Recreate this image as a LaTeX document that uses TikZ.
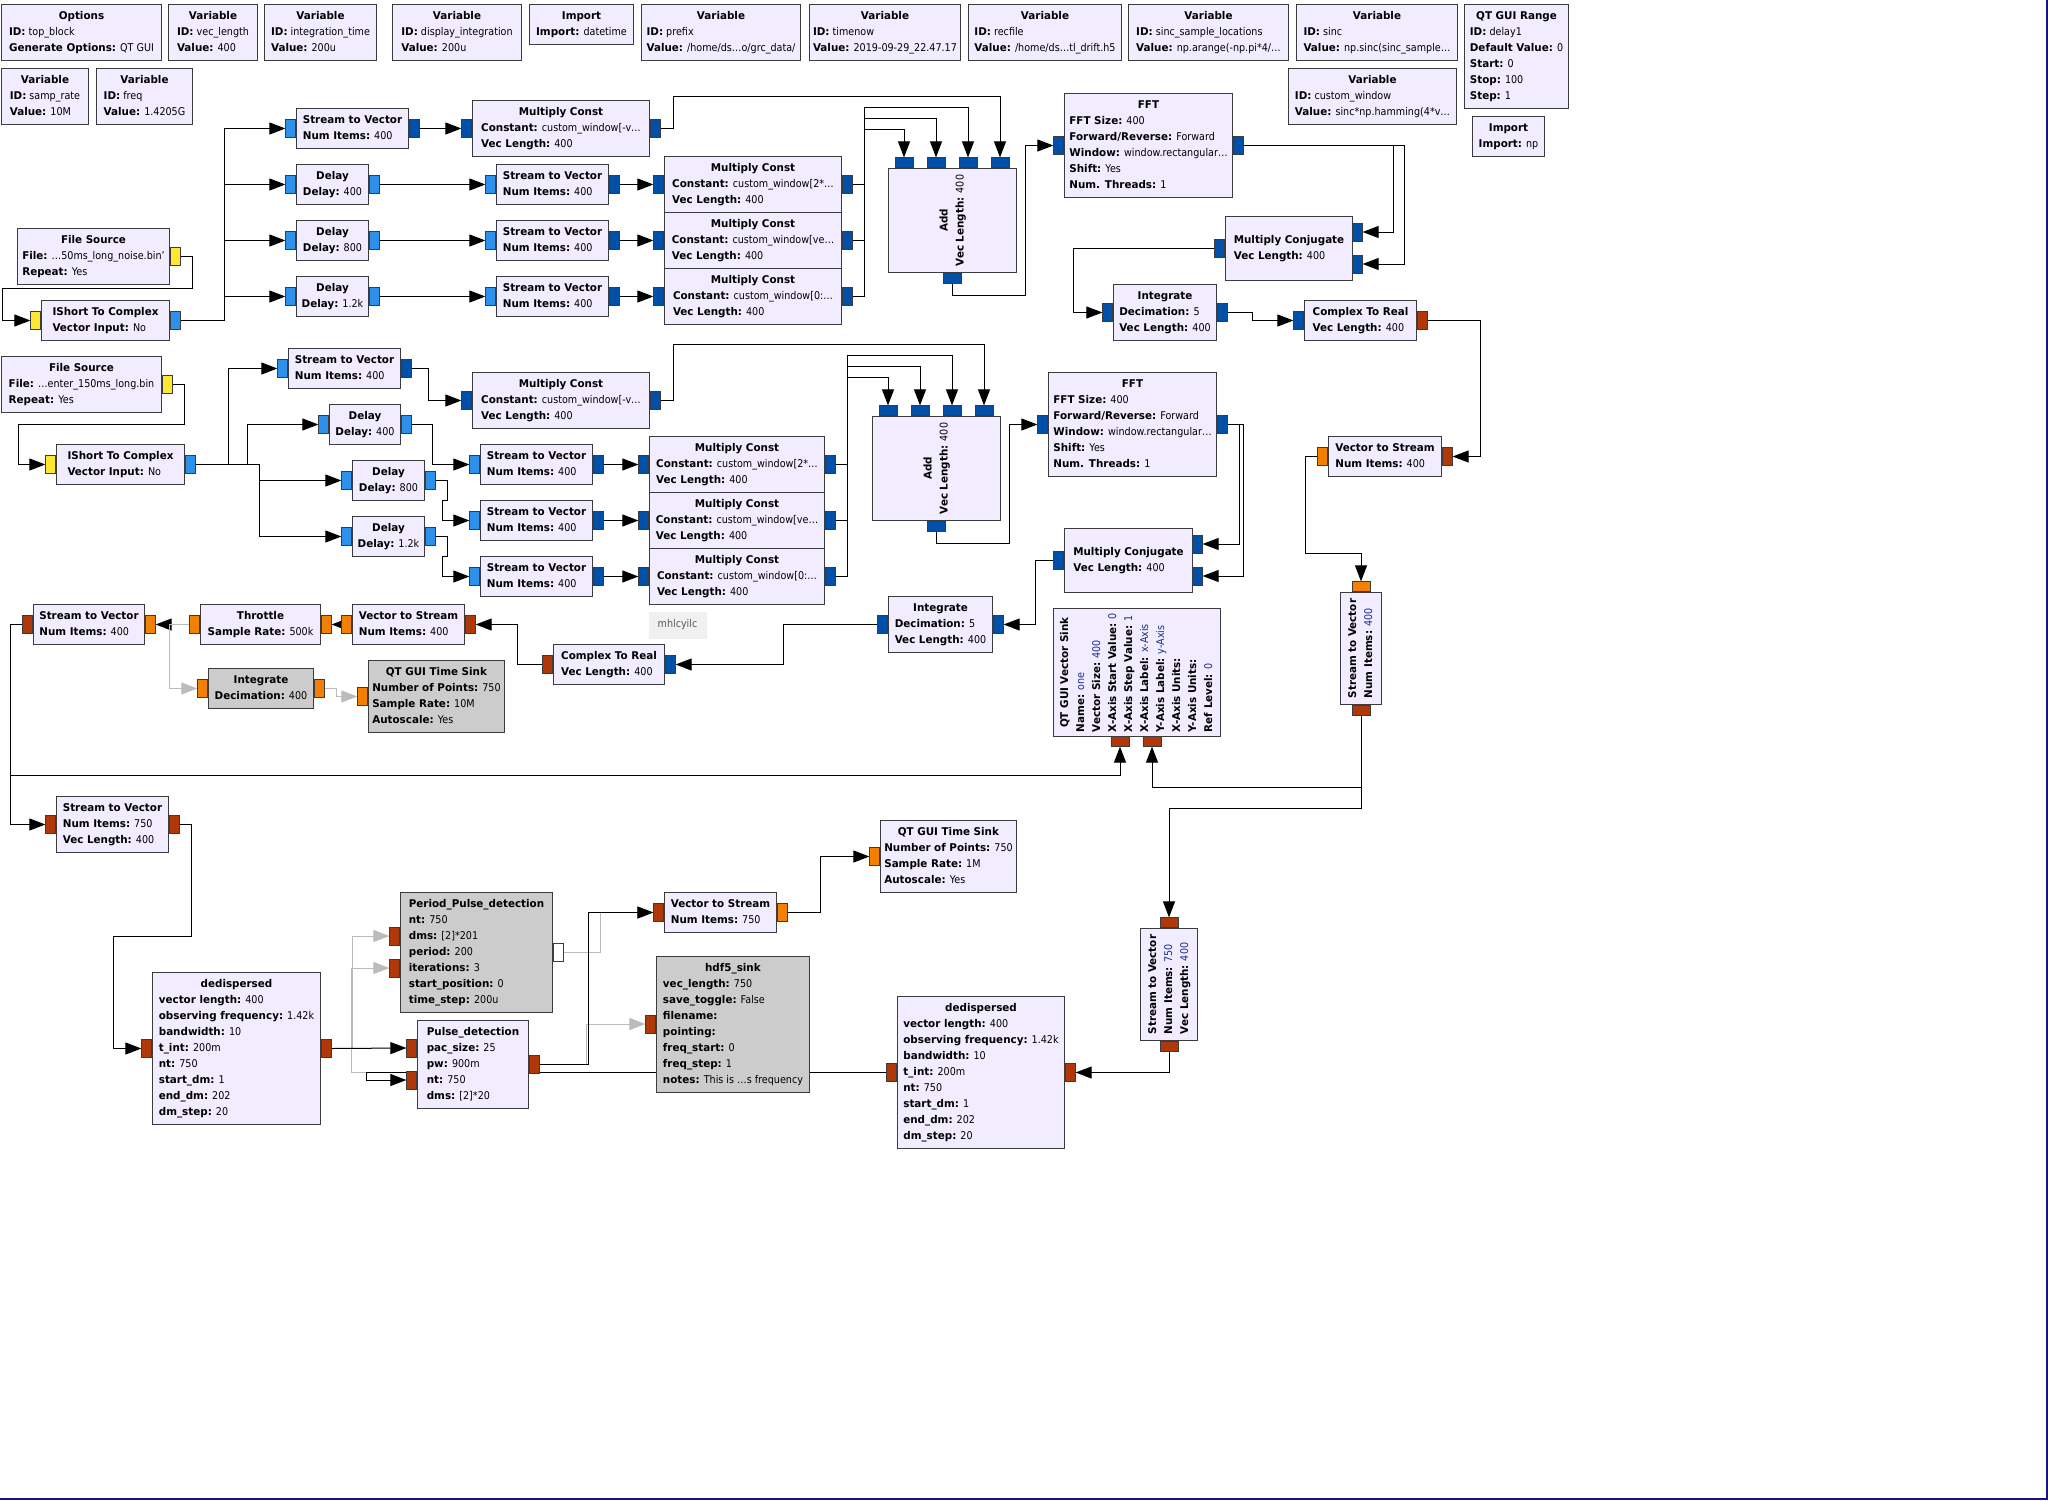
\documentclass[tikz,border=0pt]{standalone}
\usepackage{fontspec}
\setmainfont{DejaVu Sans}[FakeStretch=0.9, BoldFeatures={FakeStretch=0.97}]
\usetikzlibrary{arrows.meta,calc,backgrounds}

\newcommand{\grcf}{\fontsize{10.67}{16}\selectfont}
\newcommand{\gtab}[1]{\begin{tabular}{@{}l@{}}#1\end{tabular}}
\definecolor{blkfill}{RGB}{241,236,255}
\definecolor{offfill}{RGB}{204,204,204}
\definecolor{bdr}{RGB}{60,60,60}
\definecolor{pcs}{RGB}{45,145,235}
\definecolor{pcv}{RGB}{0,80,170}
\definecolor{pfs}{RGB}{243,128,0}
\definecolor{pfv}{RGB}{176,56,8}
\definecolor{psh}{RGB}{255,230,50}
\definecolor{gcon}{RGB}{187,187,187}
\definecolor{rval}{RGB}{25,45,140}
\definecolor{notefill}{RGB}{240,240,240}
\definecolor{notetxt}{RGB}{90,90,90}
\definecolor{frameblue}{RGB}{20,20,140}

\tikzset{every picture/.style={line width=1pt}}
\tikzset{
	blk/.style={draw={bdr}, fill={blkfill}, line width=1pt, anchor=north west, inner sep=0pt},
	offblk/.style={blk, fill={offfill}},
	txt/.style={inner sep=0pt, font=\grcf},
	port/.style={draw={bdr}, line width=0.6pt, inner sep=0pt, minimum width=10, minimum height=18},
	vport/.style={port, minimum width=18, minimum height=10},
	wire/.style={-{Triangle[length=16pt,width=12pt]}, line width=1pt, draw=black},
	offwire/.style={wire, draw={gcon}}}

\begin{document}
\begin{tikzpicture}[x=1pt,y=1pt,yscale=-1,xscale=1]
	\useasboundingbox (0,0) rectangle (2048,1500);

	%Shape: Variables, top rows
	\node[blk, minimum width=160, minimum height=56] (opt) at (1,4) {};
	\node[txt] (opt-t) at (opt.center) {\gtab{\hfil\textbf{Options}\\ \textbf{ID:} top\_block\\ \textbf{Generate Options:} QT GUI}};
	\node[blk, minimum width=89, minimum height=56] (vlen) at (168,4) {};
	\node[txt] (vlen-t) at (vlen.center) {\gtab{\hfil\textbf{Variable}\\ \textbf{ID:} vec\_length\\ \textbf{Value:} 400}};
	\node[blk, minimum width=112, minimum height=56] (vint) at (264,4) {};
	\node[txt] (vint-t) at (vint.center) {\gtab{\hfil\textbf{Variable}\\ \textbf{ID:} integration\_time\\ \textbf{Value:} 200u}};
	\node[blk, minimum width=129, minimum height=56] (vdisp) at (392,4) {};
	\node[txt] (vdisp-t) at (vdisp.center) {\gtab{\hfil\textbf{Variable}\\ \textbf{ID:} display\_integration\\ \textbf{Value:} 200u}};
	\node[blk, minimum width=104, minimum height=40] (imp1) at (529,4) {};
	\node[txt] (imp1-t) at (imp1.center) {\gtab{\hfil\textbf{Import}\\ \textbf{Import:} datetime}};
	\node[blk, minimum width=159, minimum height=56] (vpre) at (641,4) {};
	\node[txt] (vpre-t) at (vpre.center) {\gtab{\hfil\textbf{Variable}\\ \textbf{ID:} prefix\\ \textbf{Value:} /home/ds…o/grc\_data/}};
	\node[blk, minimum width=151, minimum height=56] (vnow) at (809,4) {};
	\node[txt] (vnow-t) at (vnow.center) {\gtab{\hfil\textbf{Variable}\\ \textbf{ID:} timenow\\ \textbf{Value:} 2019-09-29\_22.47.17}};
	\node[blk, minimum width=153, minimum height=56] (vrec) at (968,4) {};
	\node[txt] (vrec-t) at (vrec.center) {\gtab{\hfil\textbf{Variable}\\ \textbf{ID:} recfile\\ \textbf{Value:} /home/ds…tl\_drift.h5}};
	\node[blk, minimum width=160, minimum height=56] (vsl) at (1128,4) {};
	\node[txt] (vsl-t) at (vsl.center) {\gtab{\hfil\textbf{Variable}\\ \textbf{ID:} sinc\_sample\_locations\\ \textbf{Value:} np.arange(-np.pi*4/…}};
	\node[blk, minimum width=161, minimum height=56] (vsinc) at (1296,4) {};
	\node[txt] (vsinc-t) at (vsinc.center) {\gtab{\hfil\textbf{Variable}\\ \textbf{ID:} sinc\\ \textbf{Value:} np.sinc(sinc\_sample…}};
	\node[blk, minimum width=104, minimum height=104] (rng) at (1464,4) {};
	\node[txt] (rng-t) at (rng.center) {\gtab{\hfil\textbf{QT GUI Range}\\ \textbf{ID:} delay1\\ \textbf{Default Value:} 0\\ \textbf{Start:} 0\\ \textbf{Stop:} 100\\ \textbf{Step:} 1}};
	\node[blk, minimum width=87, minimum height=56] (vsr) at (1,68) {};
	\node[txt] (vsr-t) at (vsr.center) {\gtab{\hfil\textbf{Variable}\\ \textbf{ID:} samp\_rate\\ \textbf{Value:} 10M}};
	\node[blk, minimum width=96, minimum height=56] (vfreq) at (96,68) {};
	\node[txt] (vfreq-t) at (vfreq.center) {\gtab{\hfil\textbf{Variable}\\ \textbf{ID:} freq\\ \textbf{Value:} 1.4205G}};
	\node[blk, minimum width=168, minimum height=56] (vwin) at (1288,68) {};
	\node[txt] (vwin-t) at (vwin.center) {\gtab{\hfil\textbf{Variable}\\ \textbf{ID:} custom\_window\\ \textbf{Value:} sinc*np.hamming(4*v…}};
	\node[blk, minimum width=72, minimum height=40] (imp2) at (1472,116) {};
	\node[txt] (imp2-t) at (imp2.center) {\gtab{\hfil\textbf{Import}\\ \textbf{Import:} np}};

	%Shape: First chain
	\node[blk, minimum width=152, minimum height=56] (fs1) at (17,228) {};
	\node[txt] (fs1-t) at (fs1.center) {\gtab{\hfil\textbf{File Source}\\ \textbf{File:} …50ms\_long\_noise.bin'\\ \textbf{Repeat:} Yes}};
	\node[port, fill=psh, anchor=west] (fs1-out) at (fs1.east) {};
	\node[blk, minimum width=128, minimum height=40] (is1) at (41,300) {};
	\node[txt] (is1-t) at (is1.center) {\gtab{\hfil\textbf{IShort To Complex}\\ \textbf{Vector Input:} No}};
	\node[port, fill=psh, anchor=east] (is1-in) at (is1.west) {};
	\node[port, fill=pcs, anchor=west] (is1-out) at (is1.east) {};
	\node[blk, minimum width=112, minimum height=40] (sv1) at (296,108) {};
	\node[txt] (sv1-t) at (sv1.center) {\gtab{\hfil\textbf{Stream to Vector}\\ \textbf{Num Items:} 400}};
	\node[port, fill=pcs, anchor=east] (sv1-in) at (sv1.west) {};
	\node[port, fill=pcv, anchor=west] (sv1-out) at (sv1.east) {};
	\node[blk, minimum width=72, minimum height=40] (d1) at (296,164) {};
	\node[txt] (d1-t) at (d1.center) {\gtab{\hfil\textbf{Delay}\\ \textbf{Delay:} 400}};
	\node[port, fill=pcs, anchor=east] (d1-in) at (d1.west) {};
	\node[port, fill=pcs, anchor=west] (d1-out) at (d1.east) {};
	\node[blk, minimum width=72, minimum height=40] (d2) at (296,220) {};
	\node[txt] (d2-t) at (d2.center) {\gtab{\hfil\textbf{Delay}\\ \textbf{Delay:} 800}};
	\node[port, fill=pcs, anchor=east] (d2-in) at (d2.west) {};
	\node[port, fill=pcs, anchor=west] (d2-out) at (d2.east) {};
	\node[blk, minimum width=72, minimum height=40] (d3) at (296,276) {};
	\node[txt] (d3-t) at (d3.center) {\gtab{\hfil\textbf{Delay}\\ \textbf{Delay:} 1.2k}};
	\node[port, fill=pcs, anchor=east] (d3-in) at (d3.west) {};
	\node[port, fill=pcs, anchor=west] (d3-out) at (d3.east) {};
	\node[blk, minimum width=112, minimum height=40] (sv2) at (496,164) {};
	\node[txt] (sv2-t) at (sv2.center) {\gtab{\hfil\textbf{Stream to Vector}\\ \textbf{Num Items:} 400}};
	\node[port, fill=pcs, anchor=east] (sv2-in) at (sv2.west) {};
	\node[port, fill=pcv, anchor=west] (sv2-out) at (sv2.east) {};
	\node[blk, minimum width=112, minimum height=40] (sv3) at (496,220) {};
	\node[txt] (sv3-t) at (sv3.center) {\gtab{\hfil\textbf{Stream to Vector}\\ \textbf{Num Items:} 400}};
	\node[port, fill=pcs, anchor=east] (sv3-in) at (sv3.west) {};
	\node[port, fill=pcv, anchor=west] (sv3-out) at (sv3.east) {};
	\node[blk, minimum width=112, minimum height=40] (sv4) at (496,276) {};
	\node[txt] (sv4-t) at (sv4.center) {\gtab{\hfil\textbf{Stream to Vector}\\ \textbf{Num Items:} 400}};
	\node[port, fill=pcs, anchor=east] (sv4-in) at (sv4.west) {};
	\node[port, fill=pcv, anchor=west] (sv4-out) at (sv4.east) {};
	\node[blk, minimum width=177, minimum height=56] (mc1) at (472,100) {};
	\node[txt] (mc1-t) at (mc1.center) {\gtab{\hfil\textbf{Multiply Const}\\ \textbf{Constant:} custom\_window[-v…\\ \textbf{Vec Length:} 400}};
	\node[port, fill=pcv, anchor=east] (mc1-in) at (mc1.west) {};
	\node[port, fill=pcv, anchor=west] (mc1-out) at (mc1.east) {};
	\node[blk, minimum width=177, minimum height=56] (mc2) at (664,156) {};
	\node[txt] (mc2-t) at (mc2.center) {\gtab{\hfil\textbf{Multiply Const}\\ \textbf{Constant:} custom\_window[2*…\\ \textbf{Vec Length:} 400}};
	\node[port, fill=pcv, anchor=east] (mc2-in) at (mc2.west) {};
	\node[port, fill=pcv, anchor=west] (mc2-out) at (mc2.east) {};
	\node[blk, minimum width=177, minimum height=56] (mc3) at (664,212) {};
	\node[txt] (mc3-t) at (mc3.center) {\gtab{\hfil\textbf{Multiply Const}\\ \textbf{Constant:} custom\_window[ve…\\ \textbf{Vec Length:} 400}};
	\node[port, fill=pcv, anchor=east] (mc3-in) at (mc3.west) {};
	\node[port, fill=pcv, anchor=west] (mc3-out) at (mc3.east) {};
	\node[blk, minimum width=177, minimum height=56] (mc4) at (664,268) {};
	\node[txt] (mc4-t) at (mc4.center) {\gtab{\hfil\textbf{Multiply Const}\\ \textbf{Constant:} custom\_window[0:…\\ \textbf{Vec Length:} 400}};
	\node[port, fill=pcv, anchor=east] (mc4-in) at (mc4.west) {};
	\node[port, fill=pcv, anchor=west] (mc4-out) at (mc4.east) {};
	\node[blk, minimum width=128, minimum height=104] (add1) at (888,168) {};
	\node[txt, rotate=90] (add1-t) at (add1.center) {\gtab{\hfil\textbf{Add}\\ \textbf{Vec Length:} 400}};
	\node[vport, fill=pcv, anchor=south] (add1-in1) at (904,168) {};
	\node[vport, fill=pcv, anchor=south] (add1-in2) at (936,168) {};
	\node[vport, fill=pcv, anchor=south] (add1-in3) at (968,168) {};
	\node[vport, fill=pcv, anchor=south] (add1-in4) at (1000,168) {};
	\node[vport, fill=pcv, anchor=north] (add1-out) at (add1.south) {};
	\node[blk, minimum width=168, minimum height=104] (fft1) at (1064,93) {};
	\node[txt] (fft1-t) at (fft1.center) {\gtab{\hfil\textbf{FFT}\\ \textbf{FFT Size:} 400\\ \textbf{Forward/Reverse:} Forward\\ \textbf{Window:} window.rectangular…\\ \textbf{Shift:} Yes\\ \textbf{Num. Threads:} 1}};
	\node[port, fill=pcv, anchor=east] (fft1-in) at (fft1.west) {};
	\node[port, fill=pcv, anchor=west] (fft1-out) at (fft1.east) {};
	\node[blk, minimum width=127, minimum height=64] (mcj1) at (1225,216) {};
	\node[txt] (mcj1-t) at (mcj1.center) {\gtab{\hfil\textbf{Multiply Conjugate}\\ \textbf{Vec Length:} 400}};
	\node[port, fill=pcv, anchor=west] (mcj1-in1) at (1352,232) {};
	\node[port, fill=pcv, anchor=west] (mcj1-in2) at (1352,264) {};
	\node[port, fill=pcv, anchor=east] (mcj1-out) at (mcj1.west) {};
	\node[blk, minimum width=103, minimum height=56] (int1) at (1113,284) {};
	\node[txt] (int1-t) at (int1.center) {\gtab{\hfil\textbf{Integrate}\\ \textbf{Decimation:} 5\\ \textbf{Vec Length:} 400}};
	\node[port, fill=pcv, anchor=east] (int1-in) at (int1.west) {};
	\node[port, fill=pcv, anchor=west] (int1-out) at (int1.east) {};
	\node[blk, minimum width=112, minimum height=40] (c2r1) at (1304,300) {};
	\node[txt] (c2r1-t) at (c2r1.center) {\gtab{\hfil\textbf{Complex To Real}\\ \textbf{Vec Length:} 400}};
	\node[port, fill=pcv, anchor=east] (c2r1-in) at (c2r1.west) {};
	\node[port, fill=pfv, anchor=west] (c2r1-out) at (c2r1.east) {};
	\node[blk, minimum width=113, minimum height=40] (v2s1) at (1328,436) {};
	\node[txt] (v2s1-t) at (v2s1.center) {\gtab{\hfil\textbf{Vector to Stream}\\ \textbf{Num Items:} 400}};
	\node[port, fill=pfv, anchor=west] (v2s1-in) at (v2s1.east) {};
	\node[port, fill=pfs, anchor=east] (v2s1-out) at (v2s1.west) {};
	\node[blk, minimum width=41, minimum height=112] (svr1) at (1340,592) {};
	\node[txt, rotate=90] (svr1-t) at (svr1.center) {\gtab{\hfil\textbf{Stream to Vector}\\ \textbf{Num Items:} {\color{rval}400}}};
	\node[vport, fill=pfs, anchor=south] (svr1-in) at (svr1.north) {};
	\node[vport, fill=pfv, anchor=north] (svr1-out) at (svr1.south) {};

	%Shape: Second chain
	\node[blk, minimum width=160, minimum height=56] (fs2) at (1,356) {};
	\node[txt] (fs2-t) at (fs2.center) {\gtab{\hfil\textbf{File Source}\\ \textbf{File:} …enter\_150ms\_long.bin\\ \textbf{Repeat:} Yes}};
	\node[port, fill=psh, anchor=west] (fs2-out) at (fs2.east) {};
	\node[blk, minimum width=128, minimum height=40] (is2) at (56,444) {};
	\node[txt] (is2-t) at (is2.center) {\gtab{\hfil\textbf{IShort To Complex}\\ \textbf{Vector Input:} No}};
	\node[port, fill=psh, anchor=east] (is2-in) at (is2.west) {};
	\node[port, fill=pcs, anchor=west] (is2-out) at (is2.east) {};
	\node[blk, minimum width=112, minimum height=40] (sv5) at (288,348) {};
	\node[txt] (sv5-t) at (sv5.center) {\gtab{\hfil\textbf{Stream to Vector}\\ \textbf{Num Items:} 400}};
	\node[port, fill=pcs, anchor=east] (sv5-in) at (sv5.west) {};
	\node[port, fill=pcv, anchor=west] (sv5-out) at (sv5.east) {};
	\node[blk, minimum width=71, minimum height=40] (d4) at (329,404) {};
	\node[txt] (d4-t) at (d4.center) {\gtab{\hfil\textbf{Delay}\\ \textbf{Delay:} 400}};
	\node[port, fill=pcs, anchor=east] (d4-in) at (d4.west) {};
	\node[port, fill=pcs, anchor=west] (d4-out) at (d4.east) {};
	\node[blk, minimum width=72, minimum height=40] (d5) at (352,460) {};
	\node[txt] (d5-t) at (d5.center) {\gtab{\hfil\textbf{Delay}\\ \textbf{Delay:} 800}};
	\node[port, fill=pcs, anchor=east] (d5-in) at (d5.west) {};
	\node[port, fill=pcs, anchor=west] (d5-out) at (d5.east) {};
	\node[blk, minimum width=72, minimum height=40] (d6) at (352,516) {};
	\node[txt] (d6-t) at (d6.center) {\gtab{\hfil\textbf{Delay}\\ \textbf{Delay:} 1.2k}};
	\node[port, fill=pcs, anchor=east] (d6-in) at (d6.west) {};
	\node[port, fill=pcs, anchor=west] (d6-out) at (d6.east) {};
	\node[blk, minimum width=112, minimum height=40] (sv6) at (480,444) {};
	\node[txt] (sv6-t) at (sv6.center) {\gtab{\hfil\textbf{Stream to Vector}\\ \textbf{Num Items:} 400}};
	\node[port, fill=pcs, anchor=east] (sv6-in) at (sv6.west) {};
	\node[port, fill=pcv, anchor=west] (sv6-out) at (sv6.east) {};
	\node[blk, minimum width=112, minimum height=40] (sv7) at (480,500) {};
	\node[txt] (sv7-t) at (sv7.center) {\gtab{\hfil\textbf{Stream to Vector}\\ \textbf{Num Items:} 400}};
	\node[port, fill=pcs, anchor=east] (sv7-in) at (sv7.west) {};
	\node[port, fill=pcv, anchor=west] (sv7-out) at (sv7.east) {};
	\node[blk, minimum width=112, minimum height=40] (sv8) at (480,556) {};
	\node[txt] (sv8-t) at (sv8.center) {\gtab{\hfil\textbf{Stream to Vector}\\ \textbf{Num Items:} 400}};
	\node[port, fill=pcs, anchor=east] (sv8-in) at (sv8.west) {};
	\node[port, fill=pcv, anchor=west] (sv8-out) at (sv8.east) {};
	\node[blk, minimum width=177, minimum height=56] (mc5) at (472,372) {};
	\node[txt] (mc5-t) at (mc5.center) {\gtab{\hfil\textbf{Multiply Const}\\ \textbf{Constant:} custom\_window[-v…\\ \textbf{Vec Length:} 400}};
	\node[port, fill=pcv, anchor=east] (mc5-in) at (mc5.west) {};
	\node[port, fill=pcv, anchor=west] (mc5-out) at (mc5.east) {};
	\node[blk, minimum width=175, minimum height=56] (mc6) at (649,436) {};
	\node[txt] (mc6-t) at (mc6.center) {\gtab{\hfil\textbf{Multiply Const}\\ \textbf{Constant:} custom\_window[2*…\\ \textbf{Vec Length:} 400}};
	\node[port, fill=pcv, anchor=east] (mc6-in) at (mc6.west) {};
	\node[port, fill=pcv, anchor=west] (mc6-out) at (mc6.east) {};
	\node[blk, minimum width=175, minimum height=56] (mc7) at (649,492) {};
	\node[txt] (mc7-t) at (mc7.center) {\gtab{\hfil\textbf{Multiply Const}\\ \textbf{Constant:} custom\_window[ve…\\ \textbf{Vec Length:} 400}};
	\node[port, fill=pcv, anchor=east] (mc7-in) at (mc7.west) {};
	\node[port, fill=pcv, anchor=west] (mc7-out) at (mc7.east) {};
	\node[blk, minimum width=175, minimum height=56] (mc8) at (649,548) {};
	\node[txt] (mc8-t) at (mc8.center) {\gtab{\hfil\textbf{Multiply Const}\\ \textbf{Constant:} custom\_window[0:…\\ \textbf{Vec Length:} 400}};
	\node[port, fill=pcv, anchor=east] (mc8-in) at (mc8.west) {};
	\node[port, fill=pcv, anchor=west] (mc8-out) at (mc8.east) {};
	\node[blk, minimum width=128, minimum height=104] (add2) at (872,416) {};
	\node[txt, rotate=90] (add2-t) at (add2.center) {\gtab{\hfil\textbf{Add}\\ \textbf{Vec Length:} 400}};
	\node[vport, fill=pcv, anchor=south] (add2-in1) at (888,416) {};
	\node[vport, fill=pcv, anchor=south] (add2-in2) at (920,416) {};
	\node[vport, fill=pcv, anchor=south] (add2-in3) at (952,416) {};
	\node[vport, fill=pcv, anchor=south] (add2-in4) at (984,416) {};
	\node[vport, fill=pcv, anchor=north] (add2-out) at (add2.south) {};
	\node[blk, minimum width=168, minimum height=104] (fft2) at (1048,372) {};
	\node[txt] (fft2-t) at (fft2.center) {\gtab{\hfil\textbf{FFT}\\ \textbf{FFT Size:} 400\\ \textbf{Forward/Reverse:} Forward\\ \textbf{Window:} window.rectangular…\\ \textbf{Shift:} Yes\\ \textbf{Num. Threads:} 1}};
	\node[port, fill=pcv, anchor=east] (fft2-in) at (fft2.west) {};
	\node[port, fill=pcv, anchor=west] (fft2-out) at (fft2.east) {};
	\node[blk, minimum width=128, minimum height=64] (mcj2) at (1064,528) {};
	\node[txt] (mcj2-t) at (mcj2.center) {\gtab{\hfil\textbf{Multiply Conjugate}\\ \textbf{Vec Length:} 400}};
	\node[port, fill=pcv, anchor=west] (mcj2-in1) at (1192,544) {};
	\node[port, fill=pcv, anchor=west] (mcj2-in2) at (1192,576) {};
	\node[port, fill=pcv, anchor=east] (mcj2-out) at (mcj2.west) {};
	\node[blk, minimum width=104, minimum height=56] (int2) at (888,596) {};
	\node[txt] (int2-t) at (int2.center) {\gtab{\hfil\textbf{Integrate}\\ \textbf{Decimation:} 5\\ \textbf{Vec Length:} 400}};
	\node[port, fill=pcv, anchor=west] (int2-in) at (int2.east) {};
	\node[port, fill=pcv, anchor=east] (int2-out) at (int2.west) {};
	\node[blk, minimum width=111, minimum height=40] (c2r2) at (553,644) {};
	\node[txt] (c2r2-t) at (c2r2.center) {\gtab{\hfil\textbf{Complex To Real}\\ \textbf{Vec Length:} 400}};
	\node[port, fill=pcv, anchor=west] (c2r2-in) at (c2r2.east) {};
	\node[port, fill=pfv, anchor=east] (c2r2-out) at (c2r2.west) {};
	\node[blk, minimum width=112, minimum height=40] (v2s2) at (352,604) {};
	\node[txt] (v2s2-t) at (v2s2.center) {\gtab{\hfil\textbf{Vector to Stream}\\ \textbf{Num Items:} 400}};
	\node[port, fill=pfv, anchor=west] (v2s2-in) at (v2s2.east) {};
	\node[port, fill=pfs, anchor=east] (v2s2-out) at (v2s2.west) {};
	\node[blk, minimum width=120, minimum height=40] (thr) at (200,604) {};
	\node[txt] (thr-t) at (thr.center) {\gtab{\hfil\textbf{Throttle}\\ \textbf{Sample Rate:} 500k}};
	\node[port, fill=pfs, anchor=west] (thr-in) at (thr.east) {};
	\node[port, fill=pfs, anchor=east] (thr-out) at (thr.west) {};
	\node[blk, minimum width=111, minimum height=40] (sv9) at (33,604) {};
	\node[txt] (sv9-t) at (sv9.center) {\gtab{\hfil\textbf{Stream to Vector}\\ \textbf{Num Items:} 400}};
	\node[port, fill=pfs, anchor=west] (sv9-in) at (sv9.east) {};
	\node[port, fill=pfv, anchor=east] (sv9-out) at (sv9.west) {};
	\node[offblk, minimum width=105, minimum height=40] (int3) at (208,668) {};
	\node[txt] (int3-t) at (int3.center) {\gtab{\hfil\textbf{Integrate}\\ \textbf{Decimation:} 400}};
	\node[port, fill=pfs, anchor=east] (int3-in) at (int3.west) {};
	\node[port, fill=pfs, anchor=west] (int3-out) at (int3.east) {};
	\node[offblk, minimum width=136, minimum height=72] (tsink1) at (368,660) {};
	\node[txt] (tsink1-t) at (tsink1.center) {\gtab{\hfil\textbf{QT GUI Time Sink}\\ \textbf{Number of Points:} 750\\ \textbf{Sample Rate:} 10M\\ \textbf{Autoscale:} Yes}};
	\node[port, fill=pfs, anchor=east] (tsink1-in) at (tsink1.west) {};
	\node[blk, minimum width=167, minimum height=128] (vsink) at (1053,608) {};
	\node[txt, rotate=90] (vsink-t) at (vsink.center) {\gtab{\hfil\textbf{QT GUI Vector Sink}\\ \textbf{Name:} {\color{rval}one}\\ \textbf{Vector Size:} {\color{rval}400}\\ \textbf{X-Axis Start Value:} {\color{rval}0}\\ \textbf{X-Axis Step Value:} {\color{rval}1}\\ \textbf{X-Axis Label:} {\color{rval}x-Axis}\\ \textbf{Y-Axis Label:} {\color{rval}y-Axis}\\ \textbf{X-Axis Units:}\\ \textbf{Y-Axis Units:}\\ \textbf{Ref Level:} {\color{rval}0}}};
	\node[vport, fill=pfv, anchor=north] (vsink-in1) at (1120,736) {};
	\node[vport, fill=pfv, anchor=north] (vsink-in2) at (1152,736) {};
	% Text Node
	\node[anchor=north west, fill={notefill}, minimum width=58, minimum height=27, inner sep=0pt, font=\grcf, text={notetxt}] (note) at (648,611) {mhlcyilc};

	%Shape: Third chain
	\node[blk, minimum width=112, minimum height=56] (sv10) at (56,796) {};
	\node[txt] (sv10-t) at (sv10.center) {\gtab{\hfil\textbf{Stream to Vector}\\ \textbf{Num Items:} 750\\ \textbf{Vec Length:} 400}};
	\node[port, fill=pfv, anchor=east] (sv10-in) at (sv10.west) {};
	\node[port, fill=pfv, anchor=west] (sv10-out) at (sv10.east) {};
	\node[blk, minimum width=168, minimum height=152] (dd1) at (152,972) {};
	\node[txt] (dd1-t) at (dd1.center) {\gtab{\hfil\textbf{dedispersed}\\ \textbf{vector length:} 400\\ \textbf{observing frequency:} 1.42k\\ \textbf{bandwidth:} 10\\ \textbf{t\_int:} 200m\\ \textbf{nt:} 750\\ \textbf{start\_dm:} 1\\ \textbf{end\_dm:} 202\\ \textbf{dm\_step:} 20}};
	\node[port, fill=pfv, anchor=east] (dd1-in) at (dd1.west) {};
	\node[port, fill=pfv, anchor=west] (dd1-out) at (dd1.east) {};
	\node[offblk, minimum width=152, minimum height=120] (ppd) at (400,892) {};
	\node[txt] (ppd-t) at (ppd.center) {\gtab{\hfil\textbf{Period\_Pulse\_detection}\\ \textbf{nt:} 750\\ \textbf{dms:} [2]*201\\ \textbf{period:} 200\\ \textbf{iterations:} 3\\ \textbf{start\_position:} 0\\ \textbf{time\_step:} 200u}};
	\node[port, fill=pfv, anchor=east] (ppd-in1) at (400,936) {};
	\node[port, fill=pfv, anchor=east] (ppd-in2) at (400,968) {};
	\node[port, fill=white, anchor=west] (ppd-out) at (ppd.east) {};
	\node[blk, minimum width=111, minimum height=88] (pd) at (417,1020) {};
	\node[txt] (pd-t) at (pd.center) {\gtab{\hfil\textbf{Pulse\_detection}\\ \textbf{pac\_size:} 25\\ \textbf{pw:} 900m\\ \textbf{nt:} 750\\ \textbf{dms:} [2]*20}};
	\node[port, fill=pfv, anchor=east] (pd-in1) at (417,1048) {};
	\node[port, fill=pfv, anchor=east] (pd-in2) at (417,1080) {};
	\node[port, fill=pfv, anchor=west] (pd-out) at (pd.east) {};
	\node[blk, minimum width=112, minimum height=40] (v2s3) at (664,892) {};
	\node[txt] (v2s3-t) at (v2s3.center) {\gtab{\hfil\textbf{Vector to Stream}\\ \textbf{Num Items:} 750}};
	\node[port, fill=pfv, anchor=east] (v2s3-in) at (v2s3.west) {};
	\node[port, fill=pfs, anchor=west] (v2s3-out) at (v2s3.east) {};
	\node[blk, minimum width=136, minimum height=72] (tsink2) at (880,820) {};
	\node[txt] (tsink2-t) at (tsink2.center) {\gtab{\hfil\textbf{QT GUI Time Sink}\\ \textbf{Number of Points:} 750\\ \textbf{Sample Rate:} 1M\\ \textbf{Autoscale:} Yes}};
	\node[port, fill=pfs, anchor=east] (tsink2-in) at (tsink2.west) {};
	\node[offblk, minimum width=153, minimum height=136] (hdf5) at (656,956) {};
	\node[txt] (hdf5-t) at (hdf5.center) {\gtab{\hfil\textbf{hdf5\_sink}\\ \textbf{vec\_length:} 750\\ \textbf{save\_toggle:} False\\ \textbf{filename:}\\ \textbf{pointing:}\\ \textbf{freq\_start:} 0\\ \textbf{freq\_step:} 1\\ \textbf{notes:} This is …s frequency}};
	\node[port, fill=pfv, anchor=east] (hdf5-in) at (656,1024) {};
	\node[blk, minimum width=167, minimum height=152] (dd2) at (897,996) {};
	\node[txt] (dd2-t) at (dd2.center) {\gtab{\hfil\textbf{dedispersed}\\ \textbf{vector length:} 400\\ \textbf{observing frequency:} 1.42k\\ \textbf{bandwidth:} 10\\ \textbf{t\_int:} 200m\\ \textbf{nt:} 750\\ \textbf{start\_dm:} 1\\ \textbf{end\_dm:} 202\\ \textbf{dm\_step:} 20}};
	\node[port, fill=pfv, anchor=west] (dd2-in) at (dd2.east) {};
	\node[port, fill=pfv, anchor=east] (dd2-out) at (dd2.west) {};
	\node[blk, minimum width=57, minimum height=112] (svr2) at (1140,928) {};
	\node[txt, rotate=90] (svr2-t) at (svr2.center) {\gtab{\hfil\textbf{Stream to Vector}\\ \textbf{Num Items:} {\color{rval}750}\\ \textbf{Vec Length:} {\color{rval}400}}};
	\node[vport, fill=pfv, anchor=south] (svr2-in) at (svr2.north) {};
	\node[vport, fill=pfv, anchor=north] (svr2-out) at (svr2.south) {};

	%Straight Lines: connections
	\begin{scope}[on background layer]
	\draw[wire] (fs1-out.east) -- ++(12,0) -- ++(0,32) -- ++(-190,0) |- (is1-in.west);
	\draw[wire] (is1-out.east) -- ++(44,0) |- (sv1-in.west);
	\draw[wire] (is1-out.east) -- ++(44,0) |- (d1-in.west);
	\draw[wire] (is1-out.east) -- ++(44,0) |- (d2-in.west);
	\draw[wire] (is1-out.east) -- ++(44,0) |- (d3-in.west);
	\draw[wire] (d1-out.east) -- (sv2-in.west);
	\draw[wire] (d2-out.east) -- (sv3-in.west);
	\draw[wire] (d3-out.east) -- (sv4-in.west);
	\draw[wire] (sv1-out.east) -- (mc1-in.west);
	\draw[wire] (sv2-out.east) -- (mc2-in.west);
	\draw[wire] (sv3-out.east) -- (mc3-in.west);
	\draw[wire] (sv4-out.east) -- (mc4-in.west);
	\draw[wire] (mc1-out.east) -- ++(13,0) -- ++(0,-32) -| (add1-in4.north);
	\draw[wire] (mc2-out.east) -- ++(12,0) -- ++(0,-77) -| (add1-in3.north);
	\draw[wire] (mc3-out.east) -- ++(12,0) -- ++(0,-122) -| (add1-in2.north);
	\draw[wire] (mc4-out.east) -- ++(12,0) -- ++(0,-167) -| (add1-in1.north);
	\draw[wire] (add1-out.south) -- ++(0,12) -- ++(73,0) |- (fft1-in.west);
	\draw[wire] (fft1-out.east) -- ++(150,0) |- (mcj1-in1.east);
	\draw[wire] (fft1-out.east) -- ++(161,0) |- (mcj1-in2.east);
	\draw[wire] (mcj1-out.west) -- ++(-141,0) |- (int1-in.west);
	\draw[wire] (int1-out.east) -- ++(25,0) |- (c2r1-in.west);
	\draw[wire] (c2r1-out.east) -- ++(53,0) |- (v2s1-in.east);
	\draw[wire] (v2s1-out.west) -- ++(-12,0) -- ++(0,97) -| (svr1-in.north);
	\draw[wire] (svr1-out.south) -- ++(0,72) -| (vsink-in2.south);
	\draw[wire] (svr1-out.south) -- ++(0,93) -| (svr2-in.north);
	\draw[wire] (svr2-out.south) |- (dd2-in.east);

	\draw[wire] (fs2-out.east) -- ++(12,0) -- ++(0,40) -- ++(-166,0) |- (is2-in.west);
	\draw[wire] (is2-out.east) -- ++(33,0) |- (sv5-in.west);
	\draw[wire] (is2-out.east) -- ++(52,0) |- (d4-in.west);
	\draw[wire] (is2-out.east) -- ++(64,0) |- (d5-in.west);
	\draw[wire] (is2-out.east) -- ++(64,0) |- (d6-in.west);
	\draw[wire] (sv5-out.east) -- ++(17,0) |- (mc5-in.west);
	\draw[wire] (d4-out.east) -- ++(21,0) |- (sv6-in.west);
	\draw[wire] (d5-out.east) -- ++(12,0) -- ++(0,20) -- ++(-5,0) |- (sv7-in.west);
	\draw[wire] (d6-out.east) -- ++(12,0) -- ++(0,20) -- ++(-5,0) |- (sv8-in.west);
	\draw[wire] (sv6-out.east) -- (mc6-in.west);
	\draw[wire] (sv7-out.east) -- (mc7-in.west);
	\draw[wire] (sv8-out.east) -- (mc8-in.west);
	\draw[wire] (mc5-out.east) -- ++(13,0) -- ++(0,-56) -| (add2-in4.north);
	\draw[wire] (mc6-out.east) -- ++(12,0) -- ++(0,-109) -| (add2-in3.north);
	\draw[wire] (mc7-out.east) -- ++(12,0) -- ++(0,-154) -| (add2-in2.north);
	\draw[wire] (mc8-out.east) -- ++(12,0) -- ++(0,-199) -| (add2-in1.north);
	\draw[wire] (add2-out.south) -- ++(0,12) -- ++(73,0) |- (fft2-in.west);
	\draw[wire] (fft2-out.east) -- ++(12,0) |- (mcj2-in1.east);
	\draw[wire] (fft2-out.east) -- ++(16,0) |- (mcj2-in2.east);
	\draw[wire] (mcj2-out.west) -- ++(-18,0) |- (int2-in.east);
	\draw[wire] (int2-out.west) -- ++(-94,0) |- (c2r2-in.east);
	\draw[wire] (c2r2-out.west) -- ++(-25,0) |- (v2s2-in.east);
	\draw[wire] (v2s2-out.west) -- (thr-in.east);
	\draw[wire] (thr-out.west) -- (sv9-in.east);
	\draw[offwire] (thr-out.west) -- ++(-20,0) |- (int3-in.west);
	\draw[offwire] (int3-out.east) -- ++(12,0) |- (tsink1-in.west);
	\draw[wire] (sv9-out.west) -- ++(-12,0) -- ++(0,151) -| (vsink-in1.south);
	\draw[wire] (sv9-out.west) -- ++(-12,0) |- (sv10-in.west);

	\draw[offwire] (dd1-out.east) -- ++(21,0) |- (ppd-in1.west);
	\draw[offwire] (dd2-out.west) -- ++(-535,0) |- (ppd-in2.west);
	\draw[offwire] (ppd-out.east) -- ++(37,0) |- (v2s3-in.west);
	\draw[offwire] (pd-out.east) -- ++(47,0) |- (hdf5-in.west);
	\draw[wire] (sv10-out.east) -- ++(12,0) -- ++(0,112) -- ++(-78,0) |- (dd1-in.west);
	\draw[wire] (dd1-out.east) -- (pd-in1.west);
	\draw[wire] (dd2-out.west) -- ++(-520,0) |- (pd-in2.west);
	\draw[wire] (pd-out.east) -- ++(49,0) |- (v2s3-in.west);
	\draw[wire] (v2s3-out.east) -- ++(33,0) |- (tsink2-in.west);
	\end{scope}

	%Straight Lines: window frame
	\draw[draw={frameblue}, line width=2pt] (0,1498.5) -- (2046.5,1498.5) -- (2046.5,0);
\end{tikzpicture}
\end{document}
